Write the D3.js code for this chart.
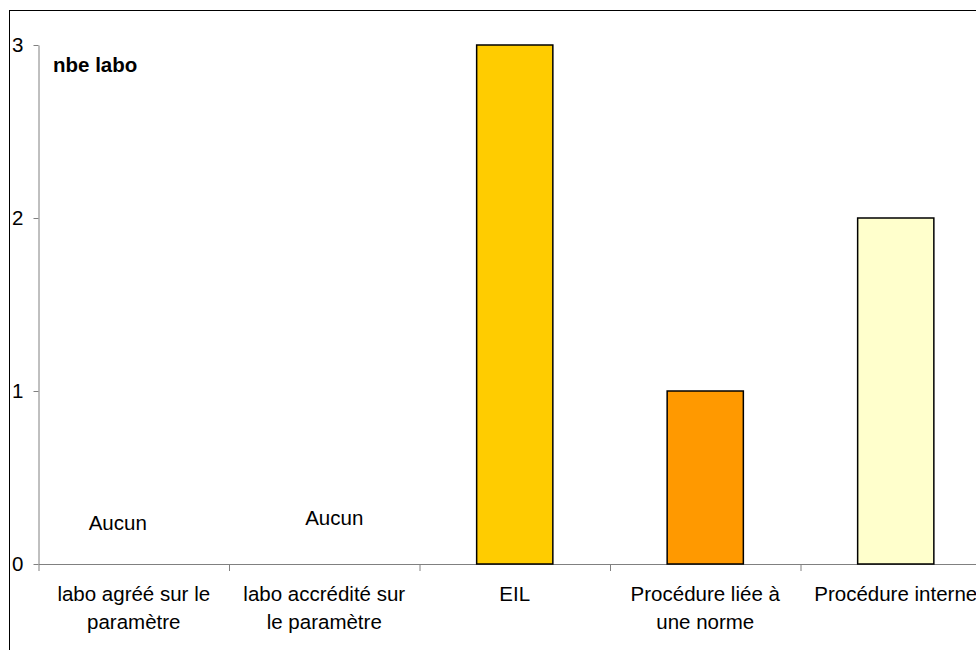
<!DOCTYPE html>
<html>
<head>
<meta charset="utf-8">
<script src="https://cdn.jsdelivr.net/npm/d3@7"></script>
<style>
  body { margin: 0; background: #fff; }
  svg { display: block; font-family: "Liberation Sans", Arial, sans-serif; }
  .axis path, .axis line { stroke: #808080; }
  .axis text { fill: #000; font-size: 20.5px; font-family: "Liberation Sans", Arial, sans-serif; }
</style>
</head>
<body>
<script>
// categories en waarden (nbe labo)
const categories = [
    'labo agréé sur le paramètre',
    'labo accrédité sur le paramètre',
    'EIL',
    'Procédure liée à une norme',
    'Procédure interne'
];
const labelLines = [
    ['labo agréé sur le', 'paramètre'],
    ['labo accrédité sur', 'le paramètre'],
    ['EIL'],
    ['Procédure liée à', 'une norme'],
    ['Procédure interne']
];
const values = [0, 0, 3, 1, 2];
const barColors = ['#FFCC00', '#FFCC00', '#FFCC00', '#FF9900', '#FFFFCC'];
const yTicks = [0, 1, 2, 3];
const emptyNote = 'Aucun';
const yTitle = 'nbe labo';

const width = 976, height = 650;
const svg = d3.select('body').append('svg')
    .attr('width', width)
    .attr('height', height);

// kader rond de grafiek
svg.append('rect')
    .attr('x', 9.5).attr('y', 10.5)
    .attr('width', 1200).attr('height', 900)
    .attr('fill', 'none').attr('stroke', '#000').attr('stroke-width', 1);

const plotLeft = 38.5, plotRight = 991, plotTop = 45, plotBottom = 564;

const yScale = d3.scaleLinear().domain([0, 3]).range([plotBottom, plotTop]);
const xBand = d3.scaleBand()
    .domain(categories)
    .range([plotLeft, plotRight])
    .paddingInner(0.6)
    .paddingOuter(0.3);
const xIdx = d3.scaleLinear().domain([0, categories.length]).range([plotLeft, plotRight]);

// y-as
svg.append('g').attr('class', 'axis')
    .attr('transform', `translate(${plotLeft},0)`)
    .call(d3.axisLeft(yScale).tickValues(yTicks).tickFormat(d3.format('d')).tickSize(5).tickSizeOuter(0).tickPadding(10));

// x-as met streepjes tussen de categorieën
svg.append('g').attr('class', 'axis')
    .attr('transform', `translate(0,${plotBottom})`)
    .call(d3.axisBottom(xIdx).tickValues(d3.range(categories.length + 1)).tickFormat('').tickSize(7).tickSizeOuter(0));

// bars
const data = categories.map((c, i) => ({ cat: c, value: values[i], color: barColors[i] }));
svg.selectAll('rect.bar')
    .data(data.filter(d => d.value > 0))
    .enter()
    .append('rect')
    .attr('class', 'bar')
    .attr('x', d => xBand(d.cat))
    .attr('y', d => yScale(d.value))
    .attr('width', xBand.bandwidth())
    .attr('height', d => yScale(0) - yScale(d.value))
    .attr('fill', d => d.color)
    .attr('stroke', '#000')
    .attr('stroke-width', 1.5);

// categorie labels
const lab = svg.selectAll('text.cat')
    .data(categories)
    .enter()
    .append('text')
    .attr('class', 'cat')
    .attr('text-anchor', 'middle')
    .attr('font-size', 20.5)
    .attr('fill', '#000');
lab.each(function (d, i) {
    const cx = xBand(d) + xBand.bandwidth() / 2;
    d3.select(this).selectAll('tspan')
        .data(labelLines[i])
        .enter()
        .append('tspan')
        .attr('x', cx)
        .attr('y', (t, j) => 601 + j * 28)
        .text(t => t);
});

// "Aucun" bij de lege categorieën
const emptyCats = data.filter(d => d.value === 0);
svg.selectAll('text.note')
    .data(emptyCats)
    .enter()
    .append('text')
    .attr('class', 'note')
    .attr('text-anchor', 'middle')
    .attr('font-size', 20.5)
    .attr('x', (d, i) => xBand(d.cat) + xBand.bandwidth() / 2 + (i === 0 ? -16 : 10))
    .attr('y', (d, i) => i === 0 ? 530 : 525)
    .text(emptyNote);

// titel van de y-as
svg.append('text')
    .attr('x', 53)
    .attr('y', 72)
    .attr('font-size', 20.5)
    .attr('font-weight', 'bold')
    .text(yTitle);
</script>
</body>
</html>
